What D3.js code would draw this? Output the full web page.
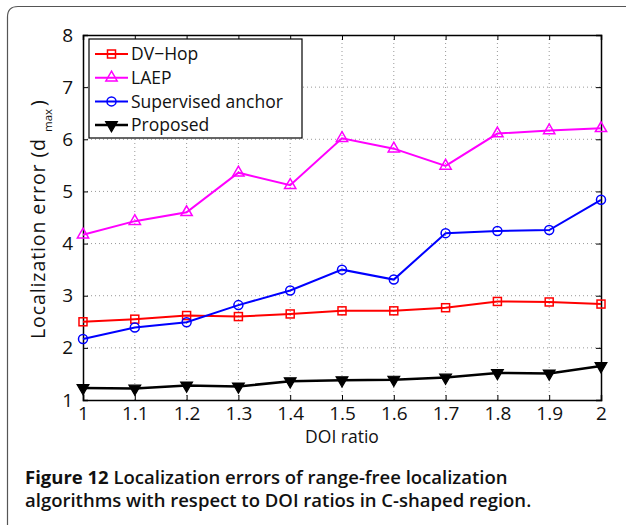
<!DOCTYPE html>
<html>
<head>
<meta charset="utf-8">
<script src="https://cdn.jsdelivr.net/npm/d3@7"></script>
<style>
body { margin: 0; background: #fff; }
svg { display: block; }
</style>
</head>
<body>
<div id="chart"></div>
<script>
// data
var doiRatio = [1, 1.1, 1.2, 1.3, 1.4, 1.5, 1.6, 1.7, 1.8, 1.9, 2];
var dvHop = [2.5, 2.55, 2.62, 2.6, 2.65, 2.71, 2.71, 2.77, 2.89, 2.88, 2.84];
var laep = [4.17, 4.43, 4.6, 5.36, 5.12, 6.02, 5.82, 5.49, 6.11, 6.17, 6.21];
var supervised = [2.17, 2.39, 2.49, 2.82, 3.1, 3.5, 3.31, 4.2, 4.24, 4.26, 4.84];
var proposed = [1.23, 1.22, 1.28, 1.26, 1.36, 1.38, 1.39, 1.43, 1.52, 1.51, 1.65];
var xTicks = [1, 1.1, 1.2, 1.3, 1.4, 1.5, 1.6, 1.7, 1.8, 1.9, 2];
var yTicks = [1, 2, 3, 4, 5, 6, 7, 8];

var series = [
  {name: "DV\u2212Hop", values: dvHop, color: "#ff0000", marker: "square"},
  {name: "LAEP", values: laep, color: "#ff00ff", marker: "triangle"},
  {name: "Supervised anchor", values: supervised, color: "#0000ff", marker: "circle"},
  {name: "Proposed", values: proposed, color: "#000000", marker: "down"}
];

var svgWidth = 626, svgHeight = 525;
var margin = {top: 35, right: 25, bottom: 125, left: 83};
var width = 601 - 83;
var height = 400 - 35;
var font = "'Open Sans', sans-serif";

var svg = d3.select("#chart").append("svg")
  .attr("width", svgWidth)
  .attr("height", svgHeight);

// figure frame (only top and left edges visible)
svg.append("path")
  .attr("d", "M 7.5 530 L 7.5 17 Q 7.5 6.5 18 6.5 L 640 6.5")
  .attr("fill", "none")
  .attr("stroke", "#555")
  .attr("stroke-width", 1.2);

var g = svg.append("g")
  .attr("transform", "translate(" + margin.left + "," + margin.top + ")");

var x = d3.scaleLinear().domain([1, 2]).range([0, width]);
var y = d3.scaleLinear().domain([1, 8]).range([height, 0]);

// grid
g.append("g").selectAll("line").data(xTicks.slice(1, -1)).join("line")
  .attr("x1", d => x(d)).attr("x2", d => x(d))
  .attr("y1", 0).attr("y2", height)
  .attr("stroke", "#999").attr("stroke-width", 1)
  .attr("stroke-dasharray", "1,3");
g.append("g").selectAll("line").data(yTicks.slice(1, -1)).join("line")
  .attr("y1", d => y(d)).attr("y2", d => y(d))
  .attr("x1", 0).attr("x2", width)
  .attr("stroke", "#999").attr("stroke-width", 1)
  .attr("stroke-dasharray", "1,3");

// axes, ticks inward on all sides
var bottomAxis = d3.axisBottom(x).tickValues(xTicks).tickSize(-5).tickPadding(7)
  .tickFormat(d => d3.format("")(d));
var leftAxis = d3.axisLeft(y).tickValues(yTicks).tickSize(-5).tickPadding(10)
  .tickFormat(d3.format("d"));
var topAxis = d3.axisTop(x).tickValues(xTicks).tickSize(-5).tickFormat("");
var rightAxis = d3.axisRight(y).tickValues(yTicks).tickSize(-5).tickFormat("");

function styleAxis(sel) {
  sel.select(".domain").attr("stroke", "#000").attr("stroke-width", 1.5);
  sel.selectAll(".tick line").attr("stroke", "#000").attr("stroke-width", 1);
  sel.selectAll(".tick text").attr("fill", "#111")
    .style("font-family", font).style("font-size", "19px");
}

g.append("g").attr("transform", "translate(0," + height + ")").call(bottomAxis).call(styleAxis);
g.append("g").call(leftAxis).call(styleAxis);
g.append("g").call(topAxis).call(styleAxis);
g.append("g").attr("transform", "translate(" + width + ",0)").call(rightAxis).call(styleAxis);

// lines
var line = d3.line().x((d, i) => x(doiRatio[i])).y(d => y(d));

function drawMarker(sel, s, cx, cy) {
  if (s.marker === "square") {
    sel.append("rect").attr("x", cx - 4).attr("y", cy - 4).attr("width", 8).attr("height", 8)
      .attr("fill", "none").attr("stroke", s.color).attr("stroke-width", 1.5);
  } else if (s.marker === "circle") {
    sel.append("circle").attr("cx", cx).attr("cy", cy).attr("r", 4.5)
      .attr("fill", "none").attr("stroke", s.color).attr("stroke-width", 1.5);
  } else if (s.marker === "triangle") {
    sel.append("path")
      .attr("d", d3.symbol().type(d3.symbolTriangle).size(55)())
      .attr("transform", "translate(" + cx + "," + cy + ")")
      .attr("fill", "none").attr("stroke", s.color).attr("stroke-width", 1.5);
  } else {
    sel.append("path")
      .attr("d", d3.symbol().type(d3.symbolTriangle).size(60)())
      .attr("transform", "translate(" + cx + "," + cy + ") rotate(180)")
      .attr("fill", s.color).attr("stroke", s.color).attr("stroke-width", 1.2);
  }
}

series.forEach(function(s) {
  g.append("path").datum(s.values)
    .attr("d", line)
    .attr("fill", "none")
    .attr("stroke", s.color)
    .attr("stroke-width", s.marker === "down" ? 2.5 : 2);
  var mg = g.append("g");
  s.values.forEach(function(v, i) {
    drawMarker(mg, s, x(doiRatio[i]), y(v));
  });
});

// legend
var legend = g.append("g").attr("transform", "translate(6,4)");
legend.append("rect")
  .attr("width", 213).attr("height", 99)
  .attr("fill", "#fff").attr("stroke", "#000").attr("stroke-width", 1.2);
series.forEach(function(s, i) {
  var ly = 15 + i * 23.7;
  legend.append("line")
    .attr("x1", 6).attr("x2", 39).attr("y1", ly).attr("y2", ly)
    .attr("stroke", s.color).attr("stroke-width", s.marker === "down" ? 2.5 : 2);
  drawMarker(legend, s, 22.5, ly);
  legend.append("text")
    .attr("x", 42).attr("y", ly).attr("dy", "0.36em")
    .style("font-family", font).style("font-size", "17.5px")
    .attr("fill", "#111")
    .text(s.name);
});

// axis labels
g.append("text")
  .attr("x", width / 2).attr("y", height + 43)
  .attr("text-anchor", "middle")
  .style("font-family", font).style("font-size", "17.5px").attr("fill", "#111")
  .text("DOI ratio");

// y label: main part, subscript and closing bracket (MATLAB style spacing)
var ylabel = g.append("g").style("font-family", font).attr("fill", "#111");
ylabel.append("text")
  .attr("transform", "translate(-38," + (339 - margin.top) + ") rotate(-90)")
  .attr("textLength", 200).attr("lengthAdjust", "spacing")
  .style("font-size", "19.5px")
  .text("Localization error (d");
ylabel.append("text")
  .attr("transform", "translate(-31," + (132 - margin.top) + ") rotate(-90)")
  .style("font-size", "11.5px")
  .text("max");
ylabel.append("text")
  .attr("transform", "translate(-38," + (106 - margin.top) + ") rotate(-90)")
  .style("font-size", "19.5px")
  .text(")");

// caption
var cap = svg.append("g").style("font-family", font).attr("fill", "#111");
var c1 = cap.append("text").attr("x", 25).attr("y", 484).style("font-size", "18.5px");
c1.append("tspan").style("font-weight", 700).text("Figure 12 ");
c1.append("tspan").style("font-weight", 600).text("Localization errors of range-free localization");
cap.append("text").attr("x", 25).attr("y", 507).style("font-size", "18.5px").style("font-weight", 600)
  .text("algorithms with respect to DOI ratios in C-shaped region.");
</script>
</body>
</html>
